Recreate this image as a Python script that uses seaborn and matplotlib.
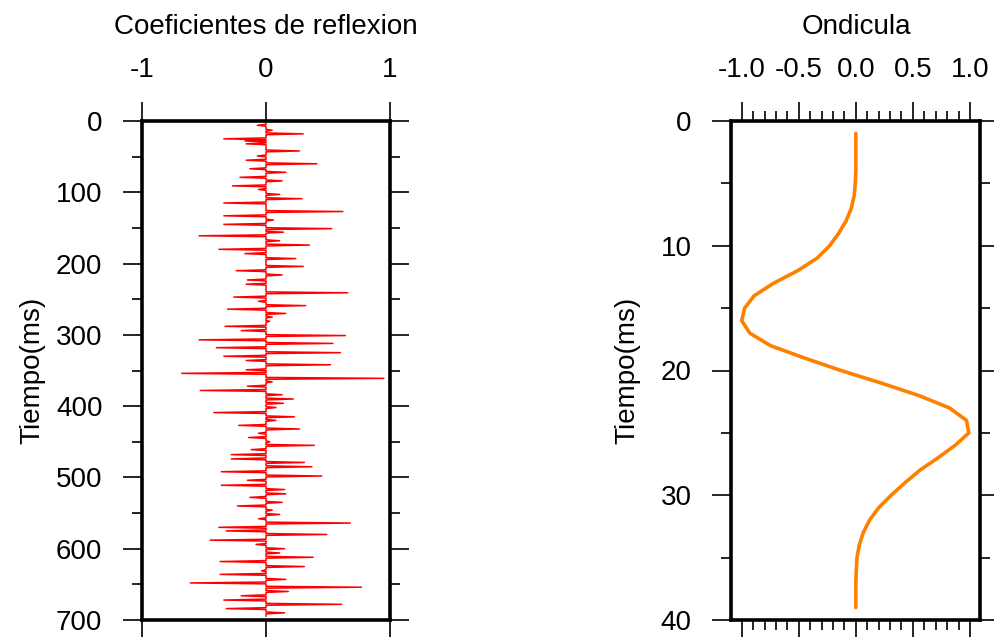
import matplotlib
matplotlib.use("Agg")
import matplotlib.pyplot as plt
import numpy as np
import pandas as pd
import seaborn as sns
from matplotlib.ticker import MultipleLocator

# ---------------- data ----------------
# Reflection coefficients: spike times (ms) and values
spike_t = [6, 13, 18, 25, 28, 32, 42, 49, 55, 60, 67, 72, 79, 84, 91, 96, 103, 109, 115,
           127, 133, 139, 145, 151, 156, 161, 168, 174, 180, 186, 193, 204, 210, 216, 223,
           229, 241, 247, 253, 259, 264, 270, 275, 281, 288, 294, 301, 307, 312, 318, 325,
           330, 336, 342, 349, 354, 361, 366, 372, 378, 384, 390, 396, 402, 409, 415, 420,
           427, 432, 438, 444, 450, 455, 461, 468, 474, 479, 485, 492, 498, 504, 511, 517,
           523, 528, 535, 540, 546, 552, 558, 564, 570, 575, 580, 588, 594, 600, 606, 612,
           618, 625, 631, 636, 643, 648, 654, 660, 666, 672, 678, 684, 690]
spike_r = [-0.07, 0.05, 0.30, -0.34, -0.17, -0.16, 0.27, -0.07, -0.16, 0.41, -0.13, 0.16,
           -0.21, 0.13, -0.27, -0.06, 0.11, 0.29, -0.34,
           0.62, -0.34, 0.06, -0.34, 0.53, 0.14, -0.54, 0.11, 0.35, -0.38, -0.17, 0.24, 0.30,
           -0.24, 0.13, -0.15, -0.16, 0.66, -0.26, -0.06, 0.32, -0.31, 0.16, 0.05, 0.03,
           -0.33, -0.20, 0.64, -0.54, 0.54, -0.40, 0.60, -0.34, -0.16, 0.52, -0.16, -0.68,
           0.95, 0.05, -0.15, -0.53, 0.13, 0.22, 0.14, 0.08, -0.42, 0.23, 0.08, -0.22, 0.27,
           -0.06, -0.14, 0.03, 0.39, -0.12, -0.28, -0.28, 0.31, 0.37, -0.36, 0.45, -0.15,
           -0.36, 0.15, 0.16, -0.13, 0.13, -0.23, 0.05, 0.11, -0.06, 0.68, -0.38, -0.32, 0.49,
           -0.45, -0.08, 0.15, 0.11, 0.38, -0.37, 0.31, -0.035, -0.37, 0.16, -0.61, 0.77,
           0.18, -0.20, -0.34, 0.61, -0.32, 0.15]
trace_start, trace_end = 2, 695

# Wavelet (ondicula)
wav_t = list(range(1, 40))
wav_a = [0.0, 0.0, 0.0, 0.0, -0.005, -0.015, -0.04, -0.085, -0.15, -0.23, -0.34, -0.51,
         -0.72, -0.89, -0.975, -1.0, -0.93, -0.75, -0.45, -0.13, 0.22, 0.55, 0.82, 0.97,
         0.99, 0.87, 0.72, 0.56, 0.43, 0.31, 0.20, 0.12, 0.065, 0.03, 0.01, 0.004, 0.0,
         0.0, 0.0]

left_xticks = [-1, 0, 1]
left_yticks = [0, 100, 200, 300, 400, 500, 600, 700]
right_xticks = [-1.0, -0.5, 0.0, 0.5, 1.0]
right_xlabels = ["-1.0", "-0.5", "0.0", "0.5", "1.0"]
right_yticks = [0, 10, 20, 30, 40]

# build the spike trace (zero baseline between spikes)
half = 1.3
tr_t, tr_r = [trace_start], [0.0]
for t, r in zip(spike_t, spike_r):
    tr_t += [t - half, t, t + half]
    tr_r += [0.0, r, 0.0]
tr_t.append(trace_end)
tr_r.append(0.0)
refl_df = pd.DataFrame({"t": tr_t, "r": tr_r})
wav_df = pd.DataFrame({"t": wav_t, "a": wav_a})

# ---------------- plot ----------------
sns.set_style("white")
plt.rcParams["font.family"] = ["Liberation Sans", "DejaVu Sans"]
plt.rcParams["text.color"] = "black"
FS = 20

fig = plt.figure(figsize=(9.94, 6.37), dpi=100)
ax1 = fig.add_axes([142 / 994, 1 - 620 / 637, 248 / 994, 499 / 637])
ax2 = fig.add_axes([731 / 994, 1 - 620 / 637, 249 / 994, 499 / 637])

sns.lineplot(data=refl_df, x="r", y="t", sort=False, estimator=None,
             color="#ff0000", linewidth=1.1, ax=ax1)
sns.lineplot(data=wav_df, x="a", y="t", sort=False, estimator=None,
             color="#ff8000", linewidth=2.6, ax=ax2)

ax1.set_xlim(-1, 1)
ax1.set_ylim(700, 0)
ax1.set_xticks(left_xticks)
ax1.set_xticklabels([str(v) for v in left_xticks])
ax1.set_yticks(left_yticks)
ax1.yaxis.set_minor_locator(MultipleLocator(50))

ax2.set_xlim(-1.094, 1.088)
ax2.set_ylim(40, 0)
ax2.set_xticks(right_xticks)
ax2.set_xticklabels(right_xlabels)
ax2.set_yticks(right_yticks)
ax2.xaxis.set_minor_locator(MultipleLocator(0.1))
ax2.yaxis.set_minor_locator(MultipleLocator(5))

for ax in (ax1, ax2):
    ax.set_xlabel("")
    ax.set_ylabel("")
    ax.tick_params(axis="both", which="both", direction="out",
                   top=True, bottom=True, left=True, right=True,
                   labeltop=True, labelbottom=False, labelleft=True, labelright=False,
                   width=1.2, color="black", labelcolor="black", labelsize=FS)
    ax.tick_params(which="major", length=13.5)
    ax.tick_params(which="minor", length=7)
    ax.tick_params(axis="x", which="both", pad=14)
    ax.tick_params(axis="y", which="both", pad=15)
    for s in ax.spines.values():
        s.set_visible(True)
        s.set_linewidth(2.6)
        s.set_color("black")

fig.text(266 / 994, 1 - 34 / 637, "Coeficientes de reflexion", ha="center",
         va="baseline", fontsize=FS, color="black")
fig.text(856 / 994, 1 - 34 / 637, "Ondicula", ha="center", va="baseline",
         fontsize=FS, color="black")
fig.text(32 / 994, 1 - 370 / 637, "Tiempo(ms)", rotation=90, ha="center",
         va="center", fontsize=FS, color="black")
fig.text(627 / 994, 1 - 370 / 637, "Tiempo(ms)", rotation=90, ha="center",
         va="center", fontsize=FS, color="black")

fig.savefig("out.png", dpi=100)
